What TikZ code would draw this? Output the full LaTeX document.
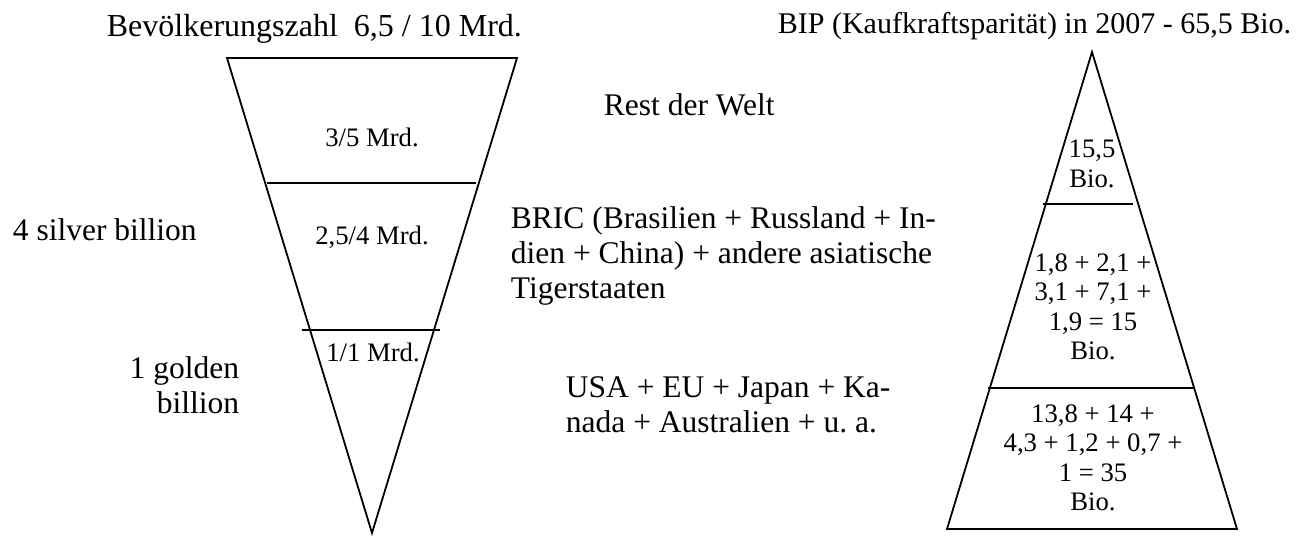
\documentclass[tikz,border=0pt]{standalone}
\usepackage{fontspec}
\setmainfont{Liberation Serif}
\frenchspacing
\begin{document}
\begin{tikzpicture}[x=1pt,y=-1pt,line width=1.8pt,
  big/.style={font=\fontsize{31.5}{35}\selectfont,inner sep=0pt,align=left},
  bigr/.style={font=\fontsize{31.5}{35}\selectfont,inner sep=0pt,align=right},
  small/.style={font=\fontsize{26.7}{29.5}\selectfont,inner sep=0pt,align=center}]
\useasboundingbox (0,0) rectangle (1304,536);
% left inverted triangle
\coordinate (lt1) at (227,58);
\coordinate (lt2) at (517,58);
\coordinate (lt3) at (372,533);
\draw (lt1) -- (lt2) -- (lt3) -- cycle;
\coordinate (la1) at (267,183); \coordinate (la2) at (476,183);
\coordinate (lb1) at (302,330); \coordinate (lb2) at (440,330);
\draw (la1) -- (la2);
\draw (lb1) -- (lb2);
\node[small,anchor=base] (l1) at (372,146) {3/5 Mrd.};
\node[small,anchor=base] (l2) at (372,244) {2,5/4 Mrd.};
\node[small,anchor=base] (l3) at (373,361) {1/1 Mrd.};
% titles
\node[inner sep=0pt,font=\fontsize{32}{36}\selectfont,anchor=base west] (t1) at (106,36) {Bevölkerungszahl\ \ 6,5 / 10 Mrd.};
\node[inner sep=0pt,font=\fontsize{30}{34}\selectfont,anchor=base west] (t2) at (777,33) {BIP (Kaufkraftsparität) in 2007 - 65,5 Bio.};
% left labels
\node[big,anchor=base west] (s) at (12,240) {4 silver billion};
\node[bigr,anchor=base east] (g) at (240,413) {1 golden\\billion};
% middle labels
\node[big,anchor=base west] (r) at (603,115) {Rest der Welt};
\node[big,anchor=base west] (b) at (510,298) {BRIC (Brasilien + Russland + In-\\dien + China) + andere asiatische\\Tigerstaaten};
\node[big,anchor=base west] (u) at (565,432) {USA + EU + Japan + Ka-\\nada + Australien + u. a.};
% right triangle
\coordinate (rt1) at (1092,52);
\coordinate (rt2) at (1237,529);
\coordinate (rt3) at (947,529);
\draw (rt1) -- (rt2) -- (rt3) -- cycle;
\coordinate (ra1) at (1043,204); \coordinate (ra2) at (1133,204);
\coordinate (rb1) at (988,388); \coordinate (rb2) at (1195,388);
\draw (ra1) -- (ra2);
\draw (rb1) -- (rb2);
\node[small,anchor=base] (r1) at (1092,187) {15,5\\Bio.};
\node[small,anchor=base] (r2) at (1093,359.5) {1,8 + 2,1 +\\3,1 + 7,1 +\\1,9 = 15\\Bio.};
\node[small,anchor=base] (r3) at (1093,510.5) {13,8 + 14 +\\4,3 + 1,2 + 0,7 +\\1 = 35\\Bio.};
\end{tikzpicture}
\end{document}
